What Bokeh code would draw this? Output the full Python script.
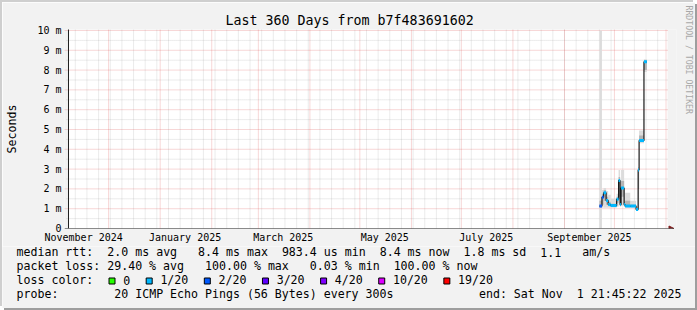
import re
import datetime as dt
from bokeh.plotting import figure
from bokeh.layouts import column
from bokeh.models import (Range1d, FixedTicker, DatetimeTickFormatter, CustomJSTickFormatter,
                          Arrow, NormalHead, LinearAxis, Title)
from bokeh.core.properties import value
from bokeh.embed import file_html
from bokeh.resources import INLINE

# ---------------- data ----------------
END = dt.datetime(2025, 11, 1, 21, 45, 22)
START = END - dt.timedelta(days=360)

title_text = "Last 360 Days from b7f483691602"
y_label = "Seconds"
y_ticks = [0, 1, 2, 3, 4, 5, 6, 7, 8, 9, 10]
y_minor = [0.5, 1.5, 2.5, 3.5, 4.5, 5.5, 6.5, 7.5, 8.5, 9.5]
label_dates = [dt.datetime(2024, 11, 16), dt.datetime(2025, 1, 16), dt.datetime(2025, 3, 16),
               dt.datetime(2025, 5, 16), dt.datetime(2025, 7, 16), dt.datetime(2025, 9, 16)]

# consolidated samples (12h RRA), median rtt in ms
seg_start = ["2025-09-22 00:00", "2025-09-23 12:00", "2025-09-24 12:00", "2025-09-26 00:00",
             "2025-09-27 06:00", "2025-09-28 18:00", "2025-10-02 08:00", "2025-10-03 12:00",
             "2025-10-04 10:00", "2025-10-05 00:00", "2025-10-06 20:00", "2025-10-07 10:00",
             "2025-10-10 12:00", "2025-10-14 00:00", "2025-10-15 06:00", "2025-10-15 20:00",
             "2025-10-18 18:00"]
seg_end = ["2025-09-23 12:00", "2025-09-24 12:00", "2025-09-26 00:00", "2025-09-27 06:00",
           "2025-09-28 18:00", "2025-10-02 08:00", "2025-10-03 12:00", "2025-10-04 10:00",
           "2025-10-05 00:00", "2025-10-06 20:00", "2025-10-07 10:00", "2025-10-10 12:00",
           "2025-10-14 00:00", "2025-10-15 06:00", "2025-10-15 20:00", "2025-10-18 18:00",
           "2025-10-20 12:00"]
median_ms = [1.13, 1.58, 1.80, 1.41, 1.21, 1.16, 1.48, 2.42, 1.21, 2.04, 1.21, 1.13, 1.13,
             0.96, 2.96, 4.44, 8.42]
loss_idx = [2, 2, 1, 1, 1, 1, 1, 1, 1, 1, 1, 1, 1, 1, 1, 1, 1]
smoke_lo = [0.0, 1.05, 1.05, 1.05, 1.05, 1.05, 1.10, 1.15, 1.10, 1.15, 1.10, 1.05, 1.05,
            0.90, 1.00, 4.30, 7.90]
smoke_hi = [10.0, 1.95, 2.05, 1.90, 1.70, 1.50, 1.75, 2.95, 1.60, 2.95, 1.60, 1.80, 1.40,
            1.10, 3.10, 4.95, 8.55]
core_lo = [1.05, 1.20, 1.40, 1.20, 1.12, 1.10, 1.30, 1.60, 1.15, 1.60, 1.15, 1.08, 1.08,
           0.93, 2.00, 4.40, 8.00]
core_hi = [1.40, 1.75, 1.95, 1.60, 1.35, 1.25, 1.60, 2.60, 1.35, 2.40, 1.35, 1.40, 1.20,
           1.00, 2.90, 4.70, 8.50]

loss_labels = ["0", "1/20", "2/20", "3/20", "4/20", "10/20", "19/20"]
loss_colors = ["#26ff00", "#00b8ff", "#0059ff", "#5e00ff", "#7e00ff", "#dd00ff", "#ff0000"]

row_median = "median rtt:  2.0 ms avg   8.4 ms max  983.4 us min  8.4 ms now  1.8 ms sd  1.1   am/s"
row_loss = "packet loss: 29.40 % avg   100.00 % max   0.03 % min  100.00 % now"
row_color = "loss color:"
row_probe = "probe:        20 ICMP Echo Pings (56 Bytes) every 300s"
row_end = "end: Sat Nov  1 21:45:22 2025"
watermark = "RRDTOOL / TOBI OETIKER"

# ---------------- helpers ----------------
def ts(s):
    return dt.datetime.strptime(s, "%Y-%m-%d %H:%M")

def ms(d):
    return (d - dt.datetime(1970, 1, 1)).total_seconds() * 1000.0

xs0 = [ts(s) for s in seg_start]
xs1 = [ts(s) for s in seg_end]

MONO = "DejaVu Sans Mono"
BG = "#f2f2f2"
M = 2                      # 3D frame width around the whole image
W = 697 - 2 * M
H1 = 246 - M               # chart part
H2 = 310 - M - 246         # legend part
# page coordinates of the bokeh frame (graph area 67..667 x 29..228 plus arrow room)
FL, FR, FT, FB = 63, 676, 29, 228
PX = 0.6 * 86400000.0      # ms of time per pixel (360 days / 600 px)
Y1 = 10.05
t0, t1 = ms(START), ms(END)

p = figure(width=W, height=H1, output_backend="svg", toolbar_location=None,
           x_axis_type="datetime",
           x_range=Range1d(t0 - (67 - FL) * PX, t1 + (FR - 667) * PX),
           y_range=Range1d(0, Y1),
           min_border_left=FL - M, min_border_right=(697 - M) - FR,
           min_border_top=FT - M, min_border_bottom=246 - FB)
p.background_fill_color = BG
p.border_fill_color = BG
p.outline_line_color = None
p.xgrid.visible = False
p.ygrid.visible = False

p.title.text = title_text
p.title.align = "left"
p.title.offset = 224 - FL
p.title.text_font = MONO
p.title.text_font_size = "13.3px"
p.title.text_font_style = "normal"
p.title.text_color = "#000000"
p.title.standoff = 4

# white graph canvas
p.quad(left=[START], right=[END], bottom=[0], top=[Y1], fill_color="#ffffff", line_color=None)

# grid: months (major) / weeks (minor) on x, 1 ms / 0.5 ms on y
month_starts = []
yy, mm = 2024, 12
while True:
    d = dt.datetime(yy, mm, 1)
    if d > END:
        break
    month_starts.append(ms(d))
    mm += 1
    if mm > 12:
        mm, yy = 1, yy + 1
mondays = []
d = dt.datetime(2024, 11, 11)
while d < END:
    mondays.append(ms(d))
    d += dt.timedelta(days=7)

GRID = dict(line_color="#8f8f8f", line_alpha=0.35, line_dash="1 1", line_width=1)
MGRID = dict(line_color="#de4f4f", line_alpha=0.45, line_dash="1 1", line_width=1)
p.segment(x0=mondays, x1=mondays, y0=[0] * len(mondays), y1=[Y1] * len(mondays), **GRID)
p.segment(x0=[t0 - 2 * PX] * len(y_minor), x1=[t1] * len(y_minor), y0=y_minor, y1=y_minor,
          **GRID)
p.segment(x0=month_starts, x1=month_starts, y0=[0] * len(month_starts),
          y1=[Y1] * len(month_starts), **MGRID)
p.segment(x0=[t0 - 4 * PX] * (len(y_ticks) - 1), x1=[t1 + 1 * PX] * (len(y_ticks) - 1),
          y0=y_ticks[1:], y1=y_ticks[1:], **MGRID)

# axes (labels only; lines drawn below)
xa = p.below[0]
xa.ticker = FixedTicker(ticks=[ms(d) for d in label_dates])
fmt = "%B %Y"
xa.formatter = DatetimeTickFormatter(years=fmt, months=fmt, days=fmt, hours=fmt, minutes=fmt,
                                     hourmin=fmt, seconds=fmt, minsec=fmt, milliseconds=fmt,
                                     microseconds=fmt)
for ax in (p.below[0], p.left[0]):
    ax.axis_line_color = None
    ax.major_tick_line_color = None
    ax.minor_tick_line_color = None
    ax.major_tick_out = 0
    ax.major_tick_in = 0
    ax.minor_tick_out = 0
    ax.minor_tick_in = 0
    ax.major_label_standoff = 3
    ax.major_label_text_font = MONO
    ax.major_label_text_font_size = "10px"
    ax.major_label_text_color = "#000000"

ya = p.left[0]
ya.ticker = FixedTicker(ticks=y_ticks)
ya.formatter = CustomJSTickFormatter(code="return tick == 0 ? '0' : tick + ' m';")
ya.axis_label = y_label
ya.axis_label_text_font = MONO
ya.axis_label_text_font_size = "11.6px"
ya.axis_label_text_font_style = "normal"
ya.axis_label_text_color = "#000000"
ya.axis_label_standoff = 15

# right side: spacer axis (one invisible tick, empty label) + watermark title
ra = LinearAxis(ticker=FixedTicker(ticks=[5]), axis_line_color=None,
                formatter=CustomJSTickFormatter(code="return '';"),
                major_tick_line_color=BG, minor_tick_line_color=None,
                major_tick_out=6, major_tick_in=0, minor_tick_out=0, minor_tick_in=0,
                major_label_standoff=0)
p.add_layout(ra, "right")
wm = Title(text=watermark, align="left", offset=-24, standoff=0, vertical_align="middle",
           text_font=MONO, text_font_size="8.2px", text_font_style="normal",
           text_color="#a8a8a8")
p.add_layout(wm, "right")

# smoke
p.quad(left=xs0, right=xs1, bottom=smoke_lo, top=smoke_hi, fill_color="#dcdcdc", line_color=None)
p.quad(left=xs0, right=xs1, bottom=core_lo, top=core_hi, fill_color="#b4b4b4", line_color=None)

# median line (steps) + loss coloured segments
step_x = xs0 + [xs1[-1]]
step_y = median_ms + [median_ms[-1]]
p.step(x=step_x, y=step_y, mode="after", line_color="#1a1a1a", line_width=1.2)
p.segment(x0=xs0, x1=xs1, y0=median_ms, y1=median_ms,
          line_color=[loss_colors[i] for i in loss_idx], line_width=3)

# axis lines with arrows
arrow_col = "#801f1f"
p.segment(x0=[t0], x1=[t0], y0=[0], y1=[Y1 + 1], line_color="#1f1f1f", line_width=1)
p.add_layout(Arrow(end=NormalHead(size=5, fill_color=arrow_col, line_color=arrow_col),
                   x_start=t0 - 4 * PX, y_start=0, x_end=t1 + 6.5 * PX, y_end=0,
                   line_color="#1f1f1f", line_width=1))

# ---------------- legend part (pixel-space figure, page coords) ----------------
q = figure(width=W, height=H2, output_backend="svg", toolbar_location=None,
           x_range=Range1d(M, W + M), y_range=Range1d(246 + H2, 246),
           x_axis_location=None, y_axis_location=None, min_border=0)
q.grid.visible = False
q.outline_line_color = None
q.background_fill_color = BG
q.border_fill_color = BG
for fig in (p, q):
    try:
        fig.frame_align = False
    except Exception:
        pass

CH = 6.984
FS = value("11.6px")
TY = -6.5   # baseline correction for rendered text

def put_row(row, x0, y):
    xs, ys, tx = [], [], []
    for m_ in re.finditer(r"\S+(?: \S+)*", row):
        xs.append(x0 + m_.start() * CH)
        ys.append(y)
        tx.append(m_.group())
    q.text(x=xs, y=ys, text=tx, text_font=value(MONO), text_font_size=FS,
           text_baseline=value("alphabetic"), text_color="#000000")

put_row(row_median, 16, 258.3 + TY)
put_row(row_loss, 16, 272 + TY)
put_row(row_color, 16, 286 + TY)
put_row(row_probe, 16, 300 + TY)
put_row(row_end, 681 - len(row_end) * CH, 300 + TY)

box_l, lab_x = [], []
bx = 108.5
for lbl in loss_labels:
    box_l.append(bx)
    lab_x.append(bx + 14.2)
    bx = bx + 14.2 + len(lbl) * CH + 16
q.quad(left=box_l, right=[b + 6 for b in box_l], top=[277.5] * len(box_l),
       bottom=[283.5] * len(box_l), fill_color=loss_colors, line_color="#000000",
       line_width=1)
q.text(x=lab_x, y=[286 + TY] * len(lab_x), text=loss_labels, text_font=value(MONO),
       text_font_size=FS, text_baseline=value("alphabetic"), text_color="#000000")

layout = column(p, q, spacing=0, margin=M,
                styles={"box-shadow": "-2px -2px 0 0 #cfcfcf, 2px 2px 0 0 #9e9e9e"})
open("out.html", "w").write(file_html(layout, INLINE))
